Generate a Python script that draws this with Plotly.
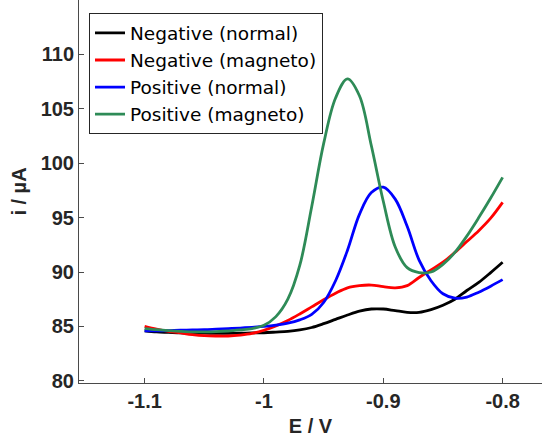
import plotly.graph_objects as go

# ---- data ----
names = ["Negative (normal)", "Negative (magneto)", "Positive (normal)", "Positive (magneto)"]
colors = ["#000000", "#FF0000", "#0000FF", "#2E8B57"]

potential = [-1.10, -1.09, -1.08, -1.07, -1.06, -1.05, -1.04, -1.03, -1.02, -1.01, -1.00,
             -0.99, -0.98, -0.97, -0.96, -0.95, -0.94, -0.93, -0.92, -0.91, -0.90,
             -0.89, -0.88, -0.87, -0.86, -0.85, -0.84, -0.83, -0.82, -0.81, -0.80]

i_neg_normal = [84.6, 84.5, 84.45, 84.4, 84.4, 84.38, 84.37, 84.37, 84.38, 84.4, 84.42,
                84.48, 84.55, 84.68, 84.9, 85.25, 85.65, 86.05, 86.4, 86.6, 86.6,
                86.45, 86.3, 86.3, 86.55, 86.95, 87.5, 88.3, 89.05, 89.95, 90.9]

i_neg_magneto = [85.0, 84.75, 84.55, 84.4, 84.25, 84.15, 84.12, 84.12, 84.2, 84.35, 84.65,
                 85.05, 85.55, 86.15, 86.8, 87.45, 88.05, 88.55, 88.75, 88.8, 88.65,
                 88.55, 88.75, 89.5, 90.2, 90.9, 91.8, 92.8, 93.8, 94.95, 96.4]

i_pos_normal = [84.6, 84.6, 84.62, 84.65, 84.68, 84.7, 84.75, 84.8, 84.85, 84.92, 85.0,
                85.12, 85.3, 85.6, 86.1, 87.2, 89.2, 92.0, 95.3, 97.3, 97.8,
                96.7, 94.2, 91.1, 89.2, 88.0, 87.6, 87.7, 88.15, 88.7, 89.3]

i_pos_magneto = [84.8, 84.7, 84.62, 84.55, 84.5, 84.5, 84.52, 84.58, 84.68, 84.8, 85.1,
                 85.9, 87.5, 90.6, 96.0, 101.8, 106.0, 107.75, 106.2, 101.6, 96.5,
                 92.3, 90.4, 89.95, 90.0, 90.7, 91.8, 93.3, 95.0, 96.8, 98.7]

series_i = [i_neg_normal, i_neg_magneto, i_pos_normal, i_pos_magneto]

x_ticks = [-1.1, -1.0, -0.9, -0.8]
x_ticktext = ["-1.1", "-1", "-0.9", "-0.8"]
y_ticks = [80, 85, 90, 95, 100, 105, 110]

# ---- figure ----
fig = go.Figure()
for n, c, i in zip(names, colors, series_i):
    fig.add_trace(go.Scatter(x=potential, y=i, mode="lines", name=n,
                             line=dict(color=c, width=2.8, shape="spline", smoothing=1.0)))

axis_col = "#4a4a4a"
font_fam = "Liberation Sans, Arial, sans-serif"
tick_font = dict(size=20, weight="bold", color="#262626", family=font_fam)
fig.update_layout(
    width=542, height=437,
    margin=dict(l=79, r=0, t=0, b=54, autoexpand=False),
    paper_bgcolor="white", plot_bgcolor="white",
    font=dict(family=font_fam, color="#262626"),
    showlegend=True,
    legend=dict(x=0.0216, y=0.965, xanchor="left", yanchor="top",
                bgcolor="white", bordercolor="#262626", borderwidth=1,
                font=dict(size=18.5, color="#000000", family="DejaVu Sans, sans-serif"),
                tracegroupgap=0),
    xaxis=dict(range=[-1.155, -0.767], tickvals=x_ticks, ticktext=x_ticktext,
               ticks="inside", ticklen=5, tickcolor=axis_col, tickwidth=1,
               showline=True, linecolor=axis_col, linewidth=1, mirror=False,
               showgrid=False, zeroline=False, automargin=False,
               tickfont=tick_font,
               title=dict(text="E / V", standoff=8, font=tick_font)),
    yaxis=dict(range=[79.8, 115], tickvals=y_ticks,
               ticks="inside", ticklen=5, tickcolor=axis_col, tickwidth=1,
               showline=True, linecolor=axis_col, linewidth=1, mirror=False,
               showgrid=False, zeroline=False, automargin=False,
               tickfont=tick_font,
               title=dict(text="i / µA", standoff=8, font=tick_font)),
)

fig.write_html("out.html",
               config={"displayModeBar": False},
               post_script="document.body.style.margin='0';document.body.style.padding='0';")
